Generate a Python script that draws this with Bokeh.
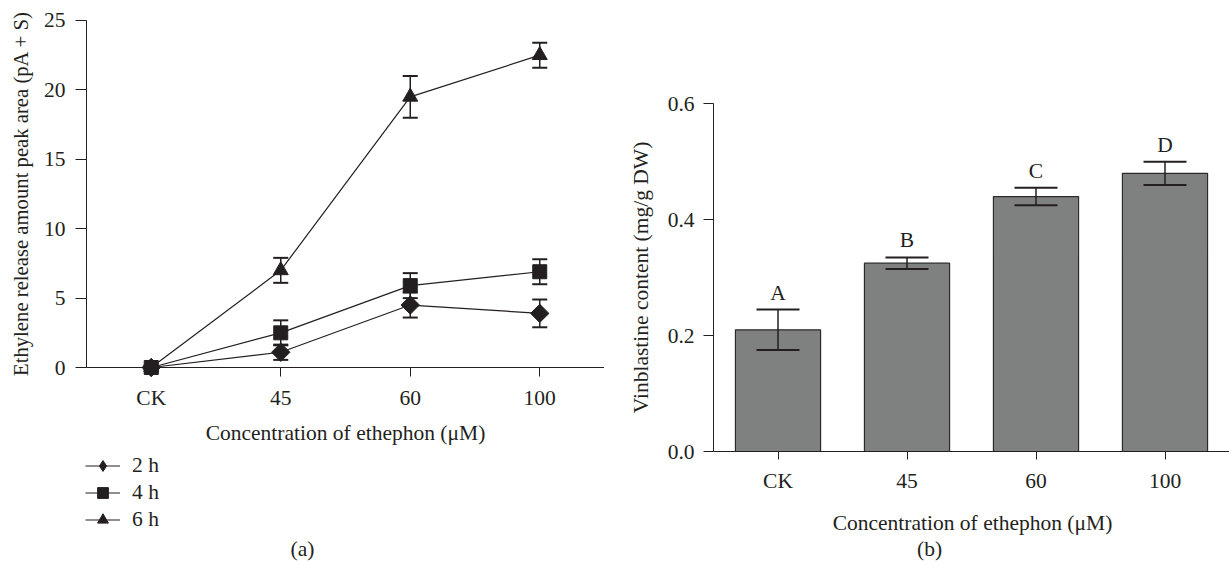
from bokeh.plotting import figure
from bokeh.models import (ColumnDataSource, Whisker, TeeHead, FixedTicker, Legend, LegendItem,
                          Label, Range1d, PrintfTickFormatter)
from bokeh.layouts import row
from bokeh.embed import file_html
from bokeh.resources import INLINE
from bokeh.core.properties import value
import math

# ---------------- data ----------------
categories = ["CK", "45", "60", "100"]
eth_2h = [0.0, 1.1, 4.5, 3.9]
eth_2h_err = [0.15, 0.55, 0.9, 1.0]
eth_4h = [0.0, 2.5, 5.9, 6.9]
eth_4h_err = [0.15, 0.9, 0.9, 0.9]
eth_6h = [0.0, 7.0, 19.5, 22.5]
eth_6h_err = [0.1, 0.9, 1.5, 0.9]
series_labels = ["2 h", "4 h", "6 h"]
vinblastine = [0.21, 0.325, 0.44, 0.48]
vinblastine_err = [0.035, 0.01, 0.015, 0.02]
group_letters = ["A", "B", "C", "D"]
left_yticks = [0, 5, 10, 15, 20, 25]
right_yticks = [0, 0.2, 0.4, 0.6]
x_title = "Concentration of ethephon (μM)"
left_y_title = "Ethylene release amount peak area (pA + S)"
right_y_title = "Vinblastine content (mg/g DW)"

FONT = "Liberation Serif"
TXT = "#231f20"
FS = "21.5px"

xpos = list(range(len(categories)))
tick_names = {i: c for i, c in zip(xpos, categories)}


def style_axes(p):
    p.outline_line_color = None
    p.xgrid.grid_line_color = None
    p.ygrid.grid_line_color = None
    for ax in (p.xaxis[0], p.yaxis[0]):
        ax.axis_line_color = TXT
        ax.axis_line_width = 1
        ax.major_tick_line_color = TXT
        ax.major_tick_line_width = 1
        ax.minor_tick_line_color = None
        ax.major_tick_in = 0
        ax.major_label_text_font = FONT
        ax.major_label_text_font_size = FS
        ax.major_label_text_color = TXT
    p.xaxis.ticker = FixedTicker(ticks=xpos)
    p.xaxis.major_label_overrides = tick_names
    p.xaxis.bounds = (-0.5, len(categories) - 0.5)


def text_label(p, x, y, text, angle=0.0, size=FS):
    p.add_layout(Label(x=x, y=y, x_units="screen", y_units="screen", text=text, angle=angle,
                       text_align="center", text_baseline="middle", text_font=FONT,
                       text_font_size=size, text_color=TXT))


# Frames fill each figure; axes sit at fixed data locations inside them.

# ---------------- panel (a) ----------------
p1 = figure(width=604, height=564, x_range=Range1d(-1.164, 3.5), y_range=Range1d(-14.19, 26.44),
            output_backend="svg", toolbar_location=None,
            min_border_left=0, min_border_right=0, min_border_top=0, min_border_bottom=0)
style_axes(p1)
p1.xaxis.fixed_location = 0
p1.xaxis.major_tick_out = 9
p1.xaxis.major_label_standoff = 9
p1.yaxis.fixed_location = -0.5
p1.yaxis.ticker = FixedTicker(ticks=left_yticks)
p1.yaxis.bounds = (0, 25)
p1.yaxis.major_tick_out = 11
p1.yaxis.major_label_standoff = 10

series = [(eth_2h, eth_2h_err, "square", 13, math.pi / 4, "diamond"),
          (eth_4h, eth_4h_err, "square", 14, 0.0, None),
          (eth_6h, eth_6h_err, "triangle", 15, 0.0, None)]
items = []
for (vals, errs, mk, sz, ang, legend_mk), lab in zip(series, series_labels):
    src = ColumnDataSource(dict(x=xpos, y=vals,
                                upper=[v + e for v, e in zip(vals, errs)],
                                lower=[v - e for v, e in zip(vals, errs)]))
    w = Whisker(source=src, base="x", upper="upper", lower="lower", dimension="height",
                line_color=TXT, line_width=1.5,
                upper_head=TeeHead(size=15, line_color=TXT, line_width=2),
                lower_head=TeeHead(size=15, line_color=TXT, line_width=2))
    p1.add_layout(w)
    r_line = p1.line(x="x", y="y", source=src, line_color=TXT, line_width=1.2)
    r_pts = p1.scatter(x="x", y="y", source=src, marker=mk, size=sz, angle=ang,
                       fill_color=TXT, line_color=TXT)
    rends = [r_line, r_pts]
    if legend_mk is not None:
        # legend symbol only (same data, not drawn in the plot)
        r_sym = p1.scatter(x="x", y="y", source=src, marker=legend_mk, size=sz,
                           fill_color=TXT, line_color=TXT, visible=False)
        rends = [r_line, r_sym]
    items.append(LegendItem(label=lab, renderers=rends))

legend = Legend(items=items, location=(85, 31), orientation="vertical",
                glyph_width=35, glyph_height=27, spacing=0, padding=0, margin=0,
                label_standoff=12, label_text_font=FONT, label_text_font_size=FS,
                label_text_color=TXT, background_fill_alpha=0, border_line_color=None,
                inactive_fill_alpha=0)
p1.add_layout(legend, "center")
text_label(p1, 345, 132, x_title)
text_label(p1, 20, 371, left_y_title, angle=math.pi / 2, size="20.7px")
text_label(p1, 302, 16, "(a)")

# ---------------- panel (b) ----------------
p2 = figure(width=625, height=564, x_range=Range1d(-1.345, 3.5), y_range=Range1d(-0.195, 0.7783),
            output_backend="svg", toolbar_location=None,
            min_border_left=0, min_border_right=0, min_border_top=0, min_border_bottom=0)
style_axes(p2)
p2.xaxis.fixed_location = 0
p2.xaxis.major_tick_out = 8
p2.xaxis.major_label_standoff = 9
p2.yaxis.fixed_location = -0.5
p2.yaxis.ticker = FixedTicker(ticks=right_yticks)
p2.yaxis.bounds = (0, 0.6)
p2.yaxis.formatter = PrintfTickFormatter(format="%.1f")
p2.yaxis.major_tick_out = 10
p2.yaxis.major_label_standoff = 9

bsrc = ColumnDataSource(dict(x=xpos, top=vinblastine,
                             upper=[v + e for v, e in zip(vinblastine, vinblastine_err)],
                             lower=[v - e for v, e in zip(vinblastine, vinblastine_err)],
                             letter=group_letters))
p2.vbar(x="x", top="top", width=0.66, bottom=0, source=bsrc, fill_color="#7f8181",
        line_color="#2a2a2a", line_width=1.2)
p2.add_layout(Whisker(source=bsrc, base="x", upper="upper", lower="lower", dimension="height",
                      level="annotation", line_color=TXT, line_width=1.5,
                      upper_head=TeeHead(size=43, line_color=TXT, line_width=2),
                      lower_head=TeeHead(size=43, line_color=TXT, line_width=2)))
p2.text(x="x", y="upper", text="letter", source=bsrc, y_offset=-5, text_align="center",
        text_baseline="bottom", text_font=value(FONT), text_font_size=FS, text_color=TXT)
text_label(p2, 368, 42, x_title)
text_label(p2, 36, 287, right_y_title, angle=math.pi / 2)
text_label(p2, 325, 16, "(b)")

layout = row(p1, p2)
open("out.html", "w").write(file_html(layout, INLINE))
